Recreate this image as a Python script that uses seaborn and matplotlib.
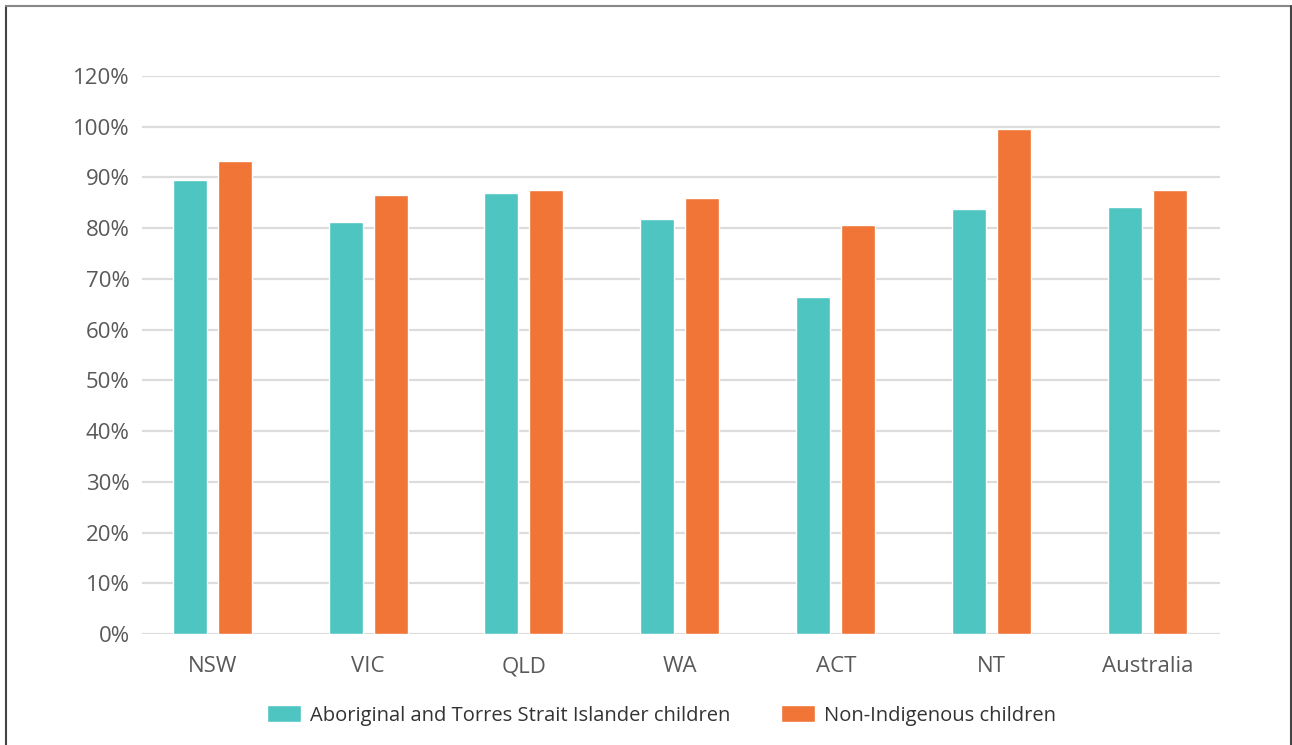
import pandas as pd
import seaborn as sns
import matplotlib.pyplot as plt
from matplotlib.lines import Line2D

states = ["NSW", "VIC", "QLD", "WA", "ACT", "NT", "Australia"]
indigenous = [89.4, 81.2, 86.9, 81.9, 66.4, 83.8, 84.2]
non_indigenous = [93.2, 86.5, 87.5, 85.9, 80.6, 99.6, 87.6]
series_names = ["Aboriginal and Torres Strait Islander children", "Non-Indigenous children"]
y_ticks = [0, 10, 20, 30, 40, 50, 60, 70, 80, 90, 100, 110]
y_tick_labels = ["0%", "10%", "20%", "30%", "40%", "50%", "60%", "70%", "80%", "90%", "100%", "120%"]

df = pd.DataFrame({
    "state": states * 2,
    "value": indigenous + non_indigenous,
    "group": [series_names[0]] * len(states) + [series_names[1]] * len(states),
})

sns.set_theme(style="white")
plt.rcParams["font.family"] = ["Open Sans", "DejaVu Sans"]

fig = plt.figure(figsize=(12.92, 7.45), dpi=100)
ax = fig.add_axes([0.110, 0.149, 0.834, 0.749])

palette = {series_names[0]: "#4EC5C1", series_names[1]: "#F07536"}
sns.barplot(data=df, x="state", y="value", hue="group", palette=palette,
            width=0.577, gap=0.243, saturation=1, ax=ax, zorder=3)

ax.set_ylim(0, 110)
ax.set_yticks(y_ticks)
ax.set_yticklabels(y_tick_labels)
ax.yaxis.grid(True, color="#dcdcdc", linewidth=1.6, zorder=0)
ax.set_axisbelow(True)
for s in ax.spines.values():
    s.set_visible(False)
ax.set_xlabel("")
ax.set_ylabel("")
ax.tick_params(axis="both", length=0, labelsize=16, labelcolor="#595959")
ax.tick_params(axis="y", pad=9)
ax.tick_params(axis="x", pad=16)
ax.set_xlim(-0.449, 6.462)

leg = ax.legend(loc="upper center", bbox_to_anchor=(0.482, -0.095), ncol=2, frameon=False,
                fontsize=14.5, handlelength=1.7, handleheight=0.92, columnspacing=2.5,
                handletextpad=0.45)
for t in leg.get_texts():
    t.set_color("#333333")

# outer frame
fig.add_artist(Line2D([0.0047, 0.0047], [0, 0.992], transform=fig.transFigure, color="#444444", lw=1.5))
fig.add_artist(Line2D([0.0047, 0.9992], [0.992, 0.992], transform=fig.transFigure, color="#888888", lw=1.5))
fig.add_artist(Line2D([0.9992, 0.9992], [0, 0.992], transform=fig.transFigure, color="#444444", lw=1.5))

fig.savefig("out.png", dpi=100, facecolor="white")
